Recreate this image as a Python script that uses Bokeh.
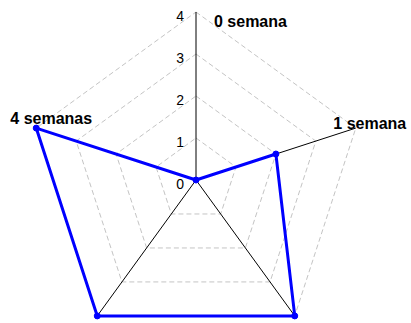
import math
from bokeh.plotting import figure
from bokeh.models import Range1d
from bokeh.core.properties import value
from bokeh.embed import file_html
from bokeh.resources import INLINE

# ---- data ----
categories = ["0 semana", "1 semana", "2 semanas", "3 semanas", "4 semanas"]
values = [0, 2, 4, 4, 4]
tick_values = [0, 1, 2, 3, 4]
tick_labels = ["0", "1", "2", "3", "4"]
max_value = 4

# ---- layout ----
W, H = 411, 323
S = 42.0               # pixels per unit
cx_px, cy_px = 195.5, 179.5  # centre inside the figure (pixels from top-left)

p = figure(width=W, height=H, output_backend="svg", toolbar_location=None,
           min_border=0, x_range=Range1d(-cx_px / S, (W - cx_px) / S),
           y_range=Range1d(-(H - cy_px) / S, cy_px / S))
p.axis.visible = False
p.grid.visible = False
p.outline_line_color = None
p.background_fill_color = "white"
p.border_fill_color = "white"

n = len(categories)
angles = [math.radians(90 - 360.0 / n * i) for i in range(n)]

def pt(r, a):
    return r * math.cos(a), r * math.sin(a)

# grid rings
for lvl in tick_values[1:]:
    xs = [pt(lvl, a)[0] for a in angles] + [pt(lvl, angles[0])[0]]
    ys = [pt(lvl, a)[1] for a in angles] + [pt(lvl, angles[0])[1]]
    p.line(xs, ys, line_color="#c4c4c4", line_width=1, line_dash="5 3")

# spokes
for a in angles:
    ex, ey = pt(max_value, a)
    p.line([0, ex], [0, ey], line_color="black", line_width=1)

# tick labels on the top spoke
p.text(x=[0] * len(tick_values), y=tick_values, text=tick_labels,
       text_font=value("Liberation Sans"), text_font_size="14px",
       text_color="black", text_align="right", text_baseline="middle",
       x_offset=-12, y_offset=4)

# category labels (the two lower ones fall outside the visible area)
lab_dx = [18, 14, 0, 0, 15]
lab_dy = [9, -5, 14, 14, -10]
lab_align = ["left", "center", "center", "center", "center"]
for i, (c, a) in enumerate(zip(categories, angles)):
    if i in (2, 3):
        continue
    ex, ey = pt(max_value, a)
    p.text(x=[ex], y=[ey], text=[c], text_font=value("Liberation Sans"),
           text_font_style="bold", text_font_size="16px", text_color="black",
           text_align=lab_align[i], text_baseline="middle",
           x_offset=lab_dx[i], y_offset=lab_dy[i])

# data polygon
dx = [pt(v, a)[0] for v, a in zip(values, angles)]
dy = [pt(v, a)[1] for v, a in zip(values, angles)]
p.line(dx + [dx[0]], dy + [dy[0]], line_color="#0000ff", line_width=3)
p.scatter(dx, dy, size=6, color="#0000ff")

open("out.html", "w").write(file_html(p, INLINE))
